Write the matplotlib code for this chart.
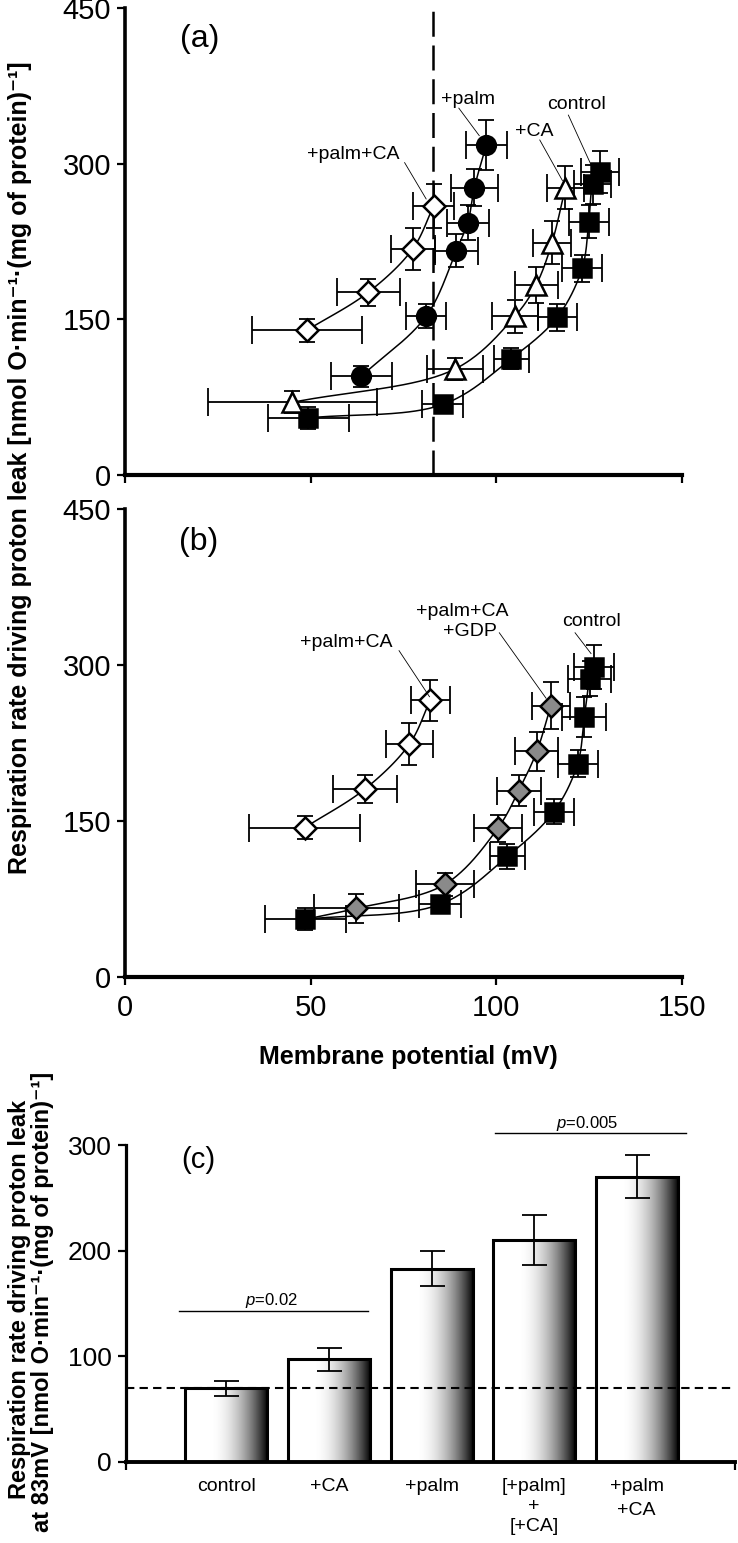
import matplotlib
matplotlib.use("Agg")

import numpy as np
import matplotlib.pyplot as plt

plt.rcParams['font.family'] = ['Liberation Sans', 'DejaVu Sans']
plt.rcParams['mathtext.fontset'] = 'custom'
plt.rcParams['mathtext.rm'] = 'Liberation Sans'
plt.rcParams['mathtext.it'] = 'Liberation Sans:italic'

# ---------------- data ----------------
# panel (a): membrane potential (mV) vs respiration rate
ctrl_a_x = [49.4, 85.6, 104.0, 116.4, 123.1, 124.9, 126.0, 127.9]
ctrl_a_y = [55, 68, 112, 152, 199, 244, 280, 292]
ctrl_a_xerr = [10.8, 5.5, 4.7, 5.3, 5.3, 5.4, 5.0, 5.2]
ctrl_a_yerr = [11, 6, 10, 13, 13, 16, 19, 20]

ca_x = [45.1, 88.8, 105.0, 110.7, 115.0, 118.6]
ca_y = [70, 102, 153, 183, 224, 277]
ca_xerr = [22.8, 7.5, 6.3, 5.8, 5.2, 5.0]
ca_yerr = [10.6, 10.4, 16, 17.6, 20.8, 20.8]

palm_x = [63.6, 81.1, 89.2, 92.3, 94.1, 97.3]
palm_y = [95, 153, 216, 243, 277, 318]
palm_xerr = [8.2, 5.4, 5.8, 5.7, 6.4, 5.6]
palm_yerr = [10, 11.5, 16, 17, 18, 24]

palmca_a_x = [49.0, 65.5, 77.5, 83.1]
palmca_a_y = [139.5, 176, 218, 259]
palmca_a_xerr = [14.8, 8.5, 6.0, 5.5]
palmca_a_yerr = [11, 13, 20, 21]

# panel (b)
ctrl_b_x = [48.6, 84.9, 103.0, 115.5, 121.9, 123.7, 125.2, 126.3]
ctrl_b_y = [55.5, 70, 116, 159, 205, 250, 287, 298]
ctrl_b_xerr = [10.8, 5.7, 4.8, 5.4, 5.4, 5.9, 5.8, 5.4]
ctrl_b_yerr = [10.6, 7, 12, 12, 13, 19, 17, 21]

gdp_x = [62.3, 86.1, 100.4, 106.0, 110.9, 114.7]
gdp_y = [66, 89, 143, 179, 217, 261]
gdp_xerr = [11.5, 7.8, 6.5, 5.9, 5.8, 5.2]
gdp_yerr = [14, 11, 13, 15, 19, 23]

palmca_b_x = [48.4, 64.7, 76.6, 82.2]
palmca_b_y = [143.6, 181, 224, 266]
palmca_b_xerr = [14.9, 8.6, 6.3, 5.3]
palmca_b_yerr = [11.3, 13.6, 20, 19.5]

# panel (c): rate at 83 mV
groups = ['control', '+CA', '+palm', '[+palm]\n+\n[+CA]', '+palm\n+CA']
rate83 = [69.6, 97, 183, 210, 270]
rate83_err = [6.9, 11, 16.3, 23.4, 20.5]

W, H = 738.0, 1543.0


# smooth curve through the points (centripetal Catmull-Rom), done in
# roughly screen-scaled units so the shape is not distorted
def smoothCurve(x, y, n=40):
    P = np.column_stack([np.array(x) * 3.7, np.array(y) * 1.04])
    P = np.vstack([2 * P[0] - P[1], P, 2 * P[-1] - P[-2]])
    out = []
    for i in range(1, len(P) - 2):
        p0, p1, p2, p3 = P[i - 1], P[i], P[i + 1], P[i + 2]
        t0 = 0.0
        t1 = t0 + np.linalg.norm(p1 - p0) ** 0.5
        t2 = t1 + np.linalg.norm(p2 - p1) ** 0.5
        t3 = t2 + np.linalg.norm(p3 - p2) ** 0.5
        t = np.linspace(t1, t2, n)[:, None]
        A1 = (t1 - t) / (t1 - t0) * p0 + (t - t0) / (t1 - t0) * p1
        A2 = (t2 - t) / (t2 - t1) * p1 + (t - t1) / (t2 - t1) * p2
        A3 = (t3 - t) / (t3 - t2) * p2 + (t - t2) / (t3 - t2) * p3
        B1 = (t2 - t) / (t2 - t0) * A1 + (t - t0) / (t2 - t0) * A2
        B2 = (t3 - t) / (t3 - t1) * A2 + (t - t1) / (t3 - t1) * A3
        C = (t2 - t) / (t2 - t1) * B1 + (t - t1) / (t2 - t1) * B2
        out.append(C)
    pts = np.vstack(out)
    return pts[:, 0] / 3.7, pts[:, 1] / 1.04


def drawSeries(ax, x, y, xerr, yerr, marker, fc, ms, curve=None):
    cx, cy = smoothCurve(*(curve if curve else (x, y)))
    ax.plot(cx, cy, color='k', lw=1.1, zorder=3)
    ax.errorbar(x, y, xerr=xerr, fmt='none', ecolor='k', elinewidth=1.3,
                capsize=10, capthick=1.3, zorder=2)
    ax.errorbar(x, y, yerr=yerr, fmt='none', ecolor='k', elinewidth=1.3,
                capsize=6, capthick=1.3, zorder=2)
    ax.plot(x, y, ls='none', marker=marker, mfc=fc, mec='k', mew=1.8,
            ms=ms, zorder=4)


def leader(ax, x0, y0, x1, y1):
    ax.plot([x0, x1], [y0, y1], color='k', lw=0.6, zorder=5)


def styleScatterAxis(ax, showx):
    ax.set_xlim(0, 150)
    ax.set_ylim(0, 450)
    ax.spines['top'].set_visible(False)
    ax.spines['right'].set_visible(False)
    ax.spines['left'].set_linewidth(2.6)
    ax.spines['bottom'].set_linewidth(3.0)
    ax.set_xticks([0, 50, 100, 150])
    ax.set_yticks([0, 150, 300, 450])
    ax.tick_params(direction='out', length=6, width=1.6, labelsize=21, pad=4)
    ax.tick_params(axis='x', labelbottom=showx, pad=6)


fig = plt.figure(figsize=(W / 100, H / 100), dpi=100)

# ---------------- panel (a) ----------------
axa = fig.add_axes([125 / W, 1 - 475 / H, 557 / W, 467 / H])
drawSeries(axa, ctrl_a_x, ctrl_a_y, ctrl_a_xerr, ctrl_a_yerr, 's', 'k', 13.5)
drawSeries(axa, ca_x, ca_y, ca_xerr, ca_yerr, '^', 'w', 15)
drawSeries(axa, palm_x, palm_y, palm_xerr, palm_yerr, 'o', 'k', 13.5)
drawSeries(axa, palmca_a_x, palmca_a_y, palmca_a_xerr, palmca_a_yerr, 'D', 'w', 11)
axa.axvline(83, color='k', lw=1.8, ls=(0, (10, 3.5)), zorder=1)
styleScatterAxis(axa, False)

axa.text(20, 420.5, '(a)', fontsize=23, ha='center', va='center')
axa.text(61.6, 308.6, '+palm+CA', fontsize=14, ha='center', va='center')
leader(axa, 75.3, 301, 81.1, 266)
axa.text(92.5, 361.5, '+palm', fontsize=14, ha='center', va='center')
leader(axa, 89.9, 353.5, 95.4, 327)
axa.text(110.3, 331, '+CA', fontsize=14, ha='center', va='center')
leader(axa, 111.7, 322.8, 117.8, 283.7)
axa.text(121.6, 356.7, 'control', fontsize=14, ha='center', va='center')
leader(axa, 119.4, 346.8, 125.4, 299.7)

# ---------------- panel (b) ----------------
axb = fig.add_axes([125 / W, 1 - 977 / H, 557 / W, 468 / H])
drawSeries(axb, ctrl_b_x, ctrl_b_y, ctrl_b_xerr, ctrl_b_yerr, 's', 'k', 13.5)
# the +GDP curve starts from the lowest control point
drawSeries(axb, gdp_x, gdp_y, gdp_xerr, gdp_yerr, 'D', '#8a8a8a', 11,
           curve=([ctrl_b_x[0]] + gdp_x, [ctrl_b_y[0]] + gdp_y))
drawSeries(axb, palmca_b_x, palmca_b_y, palmca_b_xerr, palmca_b_yerr, 'D', 'w', 11)
styleScatterAxis(axb, True)

axb.text(19.9, 418.6, '(b)', fontsize=23, ha='center', va='center')
axb.text(59.7, 321.4, '+palm+CA', fontsize=14, ha='center', va='center')
leader(axb, 73.8, 313.8, 82.0, 269.5)
axb.text(90.9, 351.3, '+palm+CA', fontsize=14, ha='center', va='center')
axb.text(92.8, 332, '+GDP', fontsize=14, ha='center', va='center')
leader(axb, 100.8, 331, 113.4, 268)
axb.text(125.5, 341.6, 'control', fontsize=14, ha='center', va='center')
leader(axb, 121.2, 331, 125.5, 311)

fig.text(20 / W, 1 - 468 / H,
         'Respiration rate driving proton leak [nmol O·min⁻¹·(mg of protein)⁻¹]',
         rotation=90, ha='center', va='center', fontsize=18, fontweight='bold')
fig.text(408 / W, 1 - 1056.7 / H, 'Membrane potential (mV)',
         ha='center', va='center', fontsize=18, fontweight='bold')

# ---------------- panel (c) ----------------
axc = fig.add_axes([126 / W, 1 - 1461.7 / H, 609 / W, 348.2 / H])
pos = np.arange(1, len(groups) + 1)
barWidth = 0.8

# white-to-black shading inside each bar
g = np.linspace(0, 1, 256)
shade = 1 - np.clip((g - 0.3) / 0.7, 0, 1) ** 2
for p, v in zip(pos, rate83):
    axc.imshow(shade[None, :], cmap='gray', vmin=0, vmax=1, aspect='auto',
               interpolation='bilinear',
               extent=[p - barWidth / 2, p + barWidth / 2, 0, v], zorder=1)
axc.bar(pos, rate83, width=barWidth, fill=False, edgecolor='k', lw=2.2, zorder=2)
axc.errorbar(pos, rate83, yerr=rate83_err, fmt='none', ecolor='k',
             elinewidth=1.3, capsize=9, capthick=1.3, zorder=3)
axc.axhline(rate83[0], color='k', lw=1.5, ls=(0, (4, 2.5)), zorder=4)

axc.set_xlim(0.02, 5.96)
axc.set_ylim(0, 330)
axc.spines['top'].set_visible(False)
axc.spines['right'].set_visible(False)
axc.spines['left'].set_bounds(0, 300)
axc.spines['left'].set_linewidth(2.3)
axc.spines['bottom'].set_linewidth(2.8)
axc.set_yticks([0, 100, 200, 300])
axc.set_xticks([0.02, 5.96])
axc.set_xticklabels([])
axc.tick_params(direction='out', length=6, width=1.6, labelsize=19, pad=4)

for p, lab in zip(pos, groups):
    axc.text(p, -15, lab, fontsize=14, ha='center', va='top',
             linespacing=1.25 if lab.count('\n') == 2 else 1.6, clip_on=False)

axc.plot([0.54, 2.38], [142.8, 142.8], color='k', lw=1.0, clip_on=False)
axc.text(1.44, 153, '$p$=0.02', fontsize=12, ha='center', va='center')
axc.plot([3.62, 5.48], [311.3, 311.3], color='k', lw=1.0, clip_on=False)
axc.text(4.52, 320.8, '$p$=0.005', fontsize=12, ha='center', va='center', clip_on=False)
axc.text(0.73, 286, '(c)', fontsize=21, ha='center', va='center')

fig.text(20 / W, 1 - 1299 / H, 'Respiration rate driving proton leak',
         rotation=90, ha='center', va='center', fontsize=17, fontweight='bold')
fig.text(43 / W, 1 - 1302 / H, 'at 83mV [nmol O·min⁻¹·(mg of protein)⁻¹]',
         rotation=90, ha='center', va='center', fontsize=17, fontweight='bold')

plt.savefig('out.png', dpi=100)
